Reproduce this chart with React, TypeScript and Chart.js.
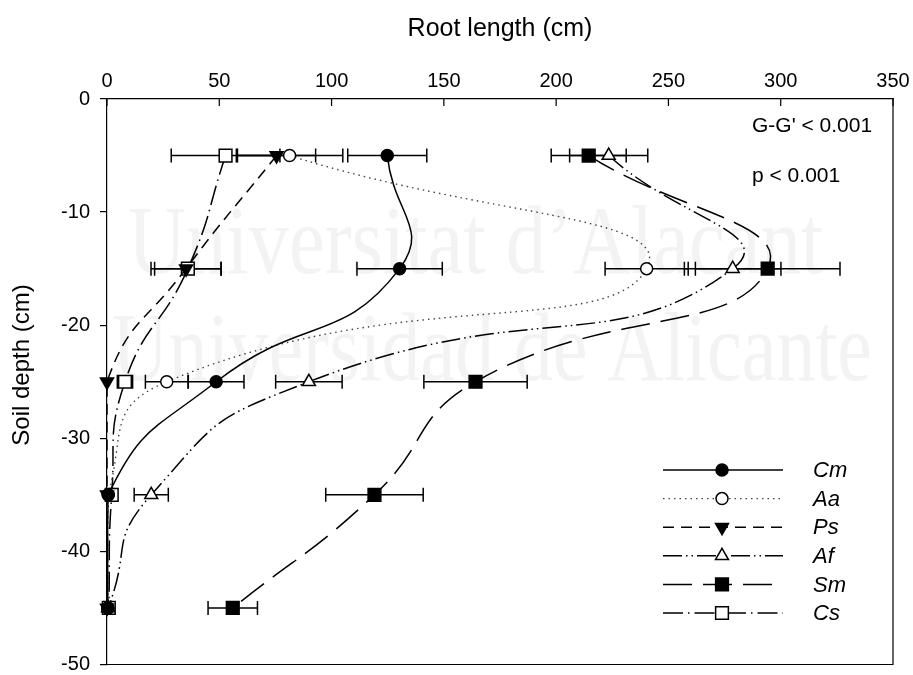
import React, { useEffect, useRef } from 'react';
import { Chart, registerables } from 'chart.js';

Chart.register(...registerables);

// ---- data ----
const depths = [-5, -15, -25, -35, -45];
const seriesNames = ['Cm', 'Aa', 'Ps', 'Af', 'Sm', 'Cs'];
const cm = [124.8, 130.3, 48.6, 0.5, 0.3];
const cmErr = [17.6, 19.0, 12.4, 0, 0];
const aa = [81.3, 240.3, 26.6, 0.6, 0.5];
const aaErr = [23.7, 18.5, 9.5, 0, 0];
const ps = [75.5, 35.2, 0, 0, 0];
const psErr = [17.4, 15.6, 0, 0, 0];
const af = [223.4, 278.6, 89.9, 19.7, 0.5];
const afErr = [17.4, 21.5, 14.8, 7.6, 0];
const sm = [214.5, 294.2, 164.1, 119.1, 56.0];
const smErr = [16.7, 32.2, 23.0, 21.7, 11.0];
const cs = [52.8, 36.0, 8.0, 2.1, 0.8];
const csErr = [24.2, 14.8, 3.4, 0.8, 0.6];
const annotations = ["G-G' < 0.001", 'p < 0.001'];
const xTitle = 'Root length (cm)';
const yTitle = 'Soil depth (cm)';
const watermark = ['Universitat d\u2019Alacant', 'Universidad de Alicante'];

const FONT = '"Liberation Sans", Arial, sans-serif';

function pts(vals: number[]) {
  return vals.map((v, i) => ({ x: v, y: depths[i] }));
}

function drawMarker(ctx: CanvasRenderingContext2D, style: string, x: number, y: number, r: number, rot: number, fill: string) {
  ctx.save();
  ctx.setLineDash([]);
  ctx.beginPath();
  if (style === 'circle') {
    ctx.arc(x, y, r, 0, Math.PI * 2);
  } else if (style === 'rect') {
    const s = r * Math.SQRT1_2;
    ctx.rect(x - s, y - s, 2 * s, 2 * s);
  } else {
    let a = (rot * Math.PI) / 180;
    ctx.moveTo(x + Math.sin(a) * r, y - Math.cos(a) * r);
    a += (2 * Math.PI) / 3;
    ctx.lineTo(x + Math.sin(a) * r, y - Math.cos(a) * r);
    a += (2 * Math.PI) / 3;
    ctx.lineTo(x + Math.sin(a) * r, y - Math.cos(a) * r);
    ctx.closePath();
  }
  ctx.fillStyle = fill;
  ctx.fill();
  ctx.lineWidth = 1.5;
  ctx.strokeStyle = '#000';
  ctx.stroke();
  ctx.restore();
}

const customPlugin = {
  id: 'custom',
  beforeDatasetsDraw(chart: any) {
    const { ctx, scales } = chart;
    const xs = scales.x;
    const ys = scales.y;
    // faint watermark
    ctx.save();
    ctx.fillStyle = '#f3f3f3';
    ctx.font = '98px "Liberation Serif", serif';
    ctx.textBaseline = 'alphabetic';
    ctx.textAlign = 'left';
    ctx.fillText(watermark[0], 128, 273, 695);
    ctx.fillText(watermark[1], 112, 380, 760);
    ctx.restore();
    // error bars
    ctx.save();
    ctx.strokeStyle = '#000';
    ctx.lineWidth = 1.5;
    ctx.setLineDash([]);
    chart.data.datasets.forEach((ds: any) => {
      ds.data.forEach((p: any, j: number) => {
        const e = ds.errors[j];
        if (!e) return;
        const x1 = xs.getPixelForValue(p.x - e);
        const x2 = xs.getPixelForValue(p.x + e);
        const yy = ys.getPixelForValue(p.y);
        ctx.beginPath();
        ctx.moveTo(x1, yy);
        ctx.lineTo(x2, yy);
        ctx.moveTo(x1, yy - 7);
        ctx.lineTo(x1, yy + 7);
        ctx.moveTo(x2, yy - 7);
        ctx.lineTo(x2, yy + 7);
        ctx.stroke();
      });
    });
    ctx.restore();
  },
  afterDraw(chart: any) {
    const { ctx, chartArea: ca, scales } = chart;
    const xs = scales.x;
    ctx.save();
    ctx.strokeStyle = '#000';
    ctx.lineWidth = 1.2;
    ctx.setLineDash([]);
    // right & bottom frame
    ctx.beginPath();
    ctx.moveTo(ca.left, ca.bottom);
    ctx.lineTo(ca.right, ca.bottom);
    ctx.lineTo(ca.right, ca.top);
    ctx.stroke();
    // inward x ticks
    ctx.beginPath();
    xs.ticks.forEach((t: any) => {
      const px = xs.getPixelForValue(t.value);
      ctx.moveTo(px, ca.top);
      ctx.lineTo(px, ca.top + 7);
    });
    ctx.stroke();
    // titles
    ctx.fillStyle = '#000';
    ctx.textBaseline = 'middle';
    ctx.textAlign = 'center';
    ctx.font = '25px ' + FONT;
    ctx.fillText(xTitle, (ca.left + ca.right) / 2, 29);
    ctx.save();
    ctx.translate(22, 365);
    ctx.rotate(-Math.PI / 2);
    ctx.font = '24px ' + FONT;
    ctx.fillText(yTitle, 0, 0);
    ctx.restore();
    // annotations
    ctx.textAlign = 'left';
    ctx.font = '21px ' + FONT;
    ctx.fillText(annotations[0], 752, 126);
    ctx.fillText(annotations[1], 752, 176);
    // legend
    chart.data.datasets.forEach((ds: any, i: number) => {
      const ly = 470 + i * 28.6;
      ctx.save();
      ctx.strokeStyle = ds.borderColor;
      ctx.lineWidth = ds.borderWidth;
      ctx.setLineDash(ds.borderDash || []);
      ctx.beginPath();
      ctx.moveTo(663, ly);
      ctx.lineTo(783, ly);
      ctx.stroke();
      ctx.restore();
      drawMarker(ctx, ds.pointStyle, 722, ly, ds.pointRadius, ds.pointRotation || 0, ds.pointBackgroundColor);
      ctx.fillStyle = '#000';
      ctx.font = 'italic 22px ' + FONT;
      ctx.textAlign = 'left';
      ctx.textBaseline = 'middle';
      ctx.fillText(ds.label, 813, ly + 1);
    });
    ctx.restore();
  },
};

function makeDataset(label: string, vals: number[], errs: number[], style: any) {
  return {
    label,
    data: pts(vals),
    errors: errs,
    showLine: true,
    tension: 0.5,
    borderColor: '#000',
    borderWidth: 1.5,
    pointBorderColor: '#000',
    pointBorderWidth: 1.5,
    pointHoverRadius: style.pointRadius,
    clip: false,
    ...style,
  };
}

export default function App() {
  const ref = useRef<HTMLCanvasElement | null>(null);
  useEffect(() => {
    document.body.style.margin = '0';
    if (!ref.current) return;
    Chart.defaults.font.family = FONT;
    Chart.defaults.color = '#000';
    const datasets = [
      makeDataset(seriesNames[0], cm, cmErr, { pointStyle: 'circle', pointRadius: 6, pointBackgroundColor: '#000', tension: 0.52 }),
      makeDataset(seriesNames[1], aa, aaErr, { pointStyle: 'circle', pointRadius: 6, pointBackgroundColor: '#fff', borderDash: [1.5, 4], borderColor: '#444', borderWidth: 1.4, tension: 0.55 }),
      makeDataset(seriesNames[2], ps, psErr, { pointStyle: 'triangle', pointRadius: 7.5, pointRotation: 180, pointBackgroundColor: '#000', borderDash: [11, 7] }),
      makeDataset(seriesNames[3], af, afErr, { pointStyle: 'triangle', pointRadius: 7.5, pointBackgroundColor: '#fff', borderDash: [19, 4, 1.5, 4, 1.5, 4], tension: 0.56 }),
      makeDataset(seriesNames[4], sm, smErr, { pointStyle: 'rect', pointRadius: 9, pointBackgroundColor: '#000', borderDash: [29, 11] }),
      makeDataset(seriesNames[5], cs, csErr, { pointStyle: 'rect', pointRadius: 9, pointBackgroundColor: '#fff', borderDash: [20, 5, 1.5, 5] }),
    ];
    const chart = new Chart(ref.current, {
      type: 'scatter',
      data: { datasets: datasets as any },
      options: {
        responsive: false,
        animation: false,
        events: [],
        layout: { padding: { top: 0, left: 0, right: 20, bottom: 8 } },
        plugins: { legend: { display: false }, tooltip: { enabled: false }, title: { display: false } },
        scales: {
          x: {
            type: 'linear',
            position: 'top',
            min: 0,
            max: 350,
            ticks: { stepSize: 50, padding: 6, font: { size: 20 }, color: '#000', maxRotation: 0, minRotation: 0 },
            grid: { display: false, drawTicks: false },
            border: { display: true, color: '#000', width: 1.2 },
            afterFit: (s: any) => {
              s.height = 99;
              s.paddingLeft = 0;
              s.paddingRight = 0;
            },
          },
          y: {
            type: 'linear',
            min: -50,
            max: 0,
            ticks: { stepSize: 10, padding: 10, font: { size: 20 }, color: '#000' },
            grid: { display: true, drawOnChartArea: false, drawTicks: true, tickLength: 7, color: '#000', lineWidth: 1.2 },
            border: { display: true, color: '#000', width: 1.2 },
            afterFit: (s: any) => {
              s.width = 107;
              s.paddingTop = 0;
              s.paddingBottom = 0;
            },
          },
        },
      } as any,
      plugins: [customPlugin],
    });
    return () => chart.destroy();
  }, []);
  return (
    <div style={{ position: 'absolute', left: 0, top: 0, width: 913, height: 675 }}>
      <canvas ref={ref} width={913} height={675} style={{ display: 'block' }} />
    </div>
  );
}
